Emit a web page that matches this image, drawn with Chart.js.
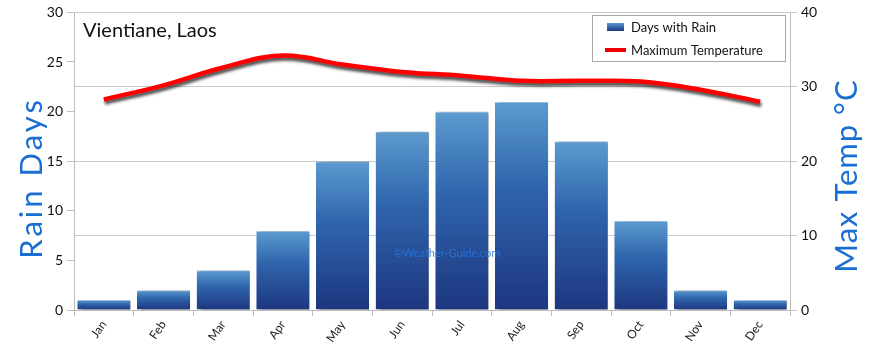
<!DOCTYPE html>
<html>
<head>
<meta charset="utf-8">
<script src="https://cdn.jsdelivr.net/npm/chart.js@4"></script>
<style>
  html, body { margin: 0; padding: 0; background: #fff; }
  #wrap { width: 870px; height: 352px; }
</style>
</head>
<body>
<div id="wrap"><canvas id="chart" width="870" height="352"></canvas></div>
<script>
// --- data ---
const months = ["Jan", "Feb", "Mar", "Apr", "May", "Jun", "Jul", "Aug", "Sep", "Oct", "Nov", "Dec"];
const rainDays = [1, 2, 4, 8, 15, 18, 20, 21, 17, 9, 2, 1];
const maxTemp = [28.3, 30.2, 32.6, 34.2, 33, 32, 31.5, 30.8, 30.8, 30.7, 29.6, 28];
const rainTicks = [0, 5, 10, 15, 20, 25, 30];
const tempTicks = [0, 10, 20, 30, 40];

const FONT = "Lato, 'Open Sans', sans-serif";
const BLUE = "#1b6fd2";

// bar gradient, per bar, from light top to dark base
function barFill(ctx) {
  const chart = ctx.chart;
  const y = chart.scales.y;
  if (!y || !chart.chartArea || ctx.dataIndex === undefined) return "#2f5fa8";
  const top = y.getPixelForValue(rainDays[ctx.dataIndex]);
  const base = y.getPixelForValue(0);
  const g = chart.ctx.createLinearGradient(0, top, 0, base);
  g.addColorStop(0, "#5c9bd0");
  g.addColorStop(0.4, "#2f66ad");
  g.addColorStop(1, "#1d3680");
  return g;
}

// drop shadows for bars and line
const shadows = {
  id: "shadows",
  beforeDatasetDraw(chart, args) {
    const c = chart.ctx;
    c.save();
    if (args.meta.type === "bar") {
      c.shadowColor = "rgba(0,0,0,0.6)";
      c.shadowOffsetX = 4;
      c.shadowOffsetY = 1;
      c.shadowBlur = 2;
    } else {
      c.shadowColor = "rgba(0,0,0,0.7)";
      c.shadowOffsetX = 1;
      c.shadowOffsetY = 3;
      c.shadowBlur = 3;
    }
  },
  afterDatasetDraw(chart) {
    chart.ctx.restore();
  }
};

// titles, legend box, watermark
const decor = {
  id: "decor",
  afterDraw(chart) {
    const c = chart.ctx;
    const a = chart.chartArea;
    c.save();

    // place name
    c.fillStyle = "#111";
    c.font = "20px " + FONT;
    c.textBaseline = "middle";
    c.textAlign = "left";
    c.fillText("Vientiane, Laos", a.left + 9, 31);

    // axis titles
    c.fillStyle = BLUE;
    c.font = "31px " + FONT;
    c.textAlign = "center";
    c.save();
    c.letterSpacing = "3px";
    c.translate(32, 178);
    c.rotate(-Math.PI / 2);
    c.fillText("Rain Days", 0, 0);
    c.restore();
    c.save();
    c.letterSpacing = "1px";
    c.translate(847, 176);
    c.rotate(-Math.PI / 2);
    c.fillText("Max Temp °C", 0, 0);
    c.restore();

    // watermark
    c.font = "11px " + FONT;
    c.fillStyle = "rgba(40,120,220,0.85)";
    c.fillText("©Weather-Guide.com", 447, 253);

    // legend box
    const lx = 592, ly = 15, lw = 193, lh = 46;
    c.fillStyle = "#fff";
    c.fillRect(lx, ly, lw, lh);
    c.strokeStyle = "#a8a8a8";
    c.lineWidth = 1;
    c.strokeRect(lx + 0.5, ly + 0.5, lw, lh);

    const sw = c.createLinearGradient(0, 23, 0, 31);
    sw.addColorStop(0, "#5a98cf");
    sw.addColorStop(1, "#1d3680");
    c.fillStyle = sw;
    c.fillRect(607, 23, 17, 8);
    c.fillStyle = "#e00";
    c.fillRect(605, 48, 21, 4);

    c.fillStyle = "#111";
    c.font = "13px " + FONT;
    c.textAlign = "left";
    c.fillText("Days with Rain", 631, 28);
    c.fillText("Maximum Temperature", 631, 51);
    c.restore();
  }
};

new Chart(document.getElementById("chart"), {
  type: "bar",
  data: {
    labels: months,
    datasets: [{
      type: "line",
      label: "Maximum Temperature",
      data: maxTemp,
      yAxisID: "y1",
      borderColor: "#ff0000",
      borderWidth: 4.5,
      tension: 0.4,
      pointRadius: 0,
      fill: false,
      order: 0,
    }, {
      label: "Days with Rain",
      data: rainDays,
      yAxisID: "y",
      backgroundColor: barFill,
      borderColor: "rgba(120,170,220,0.6)",
      borderWidth: { top: 1, left: 0, right: 0, bottom: 0 },
      categoryPercentage: 1,
      barPercentage: 0.89,
      order: 1,
    }],
  },
  options: {
    responsive: false,
    animation: false,
    layout: { padding: { top: 9, left: 0, right: 0, bottom: 0 } },
    scales: {
      x: {
        offset: true,
        grid: { offset: true, drawOnChartArea: false, tickLength: 6, color: "#bdbdbd" },
        border: { color: "#bdbdbd" },
        ticks: { color: "#222", font: { family: FONT, size: 12 }, maxRotation: 55, minRotation: 55, padding: 2 },
        afterFit(s) { s.height = 42; },
      },
      y: {
        position: "left",
        min: 0, max: 30,
        afterBuildTicks(s) { s.ticks = rainTicks.map(v => ({ value: v })); },
        grid: { drawOnChartArea: false, tickLength: 7, color: "#bdbdbd" },
        border: { color: "#bdbdbd" },
        ticks: { color: "#111", font: { family: FONT, size: 14 }, padding: 4 },
        afterFit(s) { s.width = 74; },
      },
      y1: {
        position: "right",
        min: 0, max: 40,
        afterBuildTicks(s) { s.ticks = tempTicks.map(v => ({ value: v })); },
        grid: { color: "#cbcbcb", tickLength: 7 },
        border: { color: "#bdbdbd" },
        ticks: { color: "#111", font: { family: FONT, size: 14 }, padding: 4 },
        afterFit(s) { s.width = 80; },
      },
    },
    plugins: {
      legend: { display: false },
      tooltip: { enabled: false },
    },
  },
  plugins: [shadows, decor],
});
</script>
</body>
</html>
